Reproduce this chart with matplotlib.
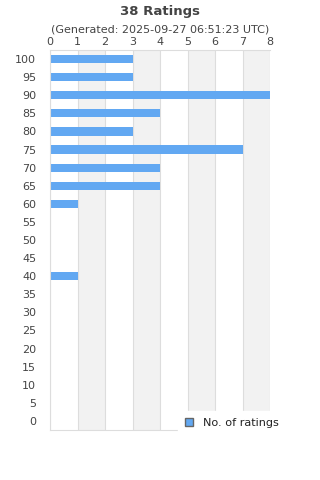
import matplotlib
matplotlib.use("Agg")
import matplotlib.pyplot as plt
from matplotlib.patches import Patch

categories = [100, 95, 90, 85, 80, 75, 70, 65, 60, 55, 50, 45, 40, 35, 30, 25, 20, 15, 10, 5, 0]
ratings = [3, 3, 8, 4, 3, 7, 4, 4, 1, 0, 0, 0, 1, 0, 0, 0, 0, 0, 0, 0, 0]
xticks = [0, 1, 2, 3, 4, 5, 6, 7, 8]

fig = plt.figure(figsize=(3.2, 4.8), dpi=100)
ax = fig.add_axes([50/320, 1-430/480, 220/320, 380/480])

bar_color = '#62a8f2'
txt = '#444444'
ypos = list(range(len(categories)))
for i in range(1, 8, 2):
    ax.axvspan(i, i + 1, color='#f2f2f2', zorder=0, lw=0)
for x in xticks:
    ax.axvline(x, color='#dddddd', lw=0.8, zorder=1)
ax.barh(ypos, ratings, height=0.45, color=bar_color, zorder=2)

ax.set_xlim(0, 8)
ax.set_ylim(len(categories) - 0.5, -0.5)
ax.set_yticks(ypos)
ax.set_yticklabels([str(c) for c in categories])
ax.set_xticks(xticks)
ax.xaxis.tick_top()
ax.tick_params(axis='both', length=0, labelsize=8, colors=txt, pad=2)
ax.tick_params(axis='y', pad=10)
for s in ['right']:
    ax.spines[s].set_visible(False)
for s in ['left', 'bottom', 'top']:
    ax.spines[s].set_color('#dddddd')
    ax.spines[s].set_linewidth(0.8)

fig.text(0.5, 1-11/480, '38 Ratings', ha='center', va='center', fontsize=9.5, fontweight='bold', color=txt)
fig.text(0.5, 1-30/480, '(Generated: 2025-09-27 06:51:23 UTC)', ha='center', va='center', fontsize=8, color=txt)

leg = fig.legend(handles=[Patch(facecolor=bar_color, edgecolor='#666666', label='No. of ratings')],
                 loc='upper left', bbox_to_anchor=(178/320, 1-411/480), bbox_transform=fig.transFigure,
                 fontsize=8.1, frameon=True, handlelength=0.7, handleheight=0.7, borderpad=0.6,
                 handletextpad=0.9, borderaxespad=0, labelcolor='#222222')
leg.get_frame().set_edgecolor('white')
leg.get_frame().set_facecolor('white')
leg.get_frame().set_alpha(1)
leg.get_frame().set_boxstyle('square', pad=0)

fig.savefig('out.png', dpi=100)
